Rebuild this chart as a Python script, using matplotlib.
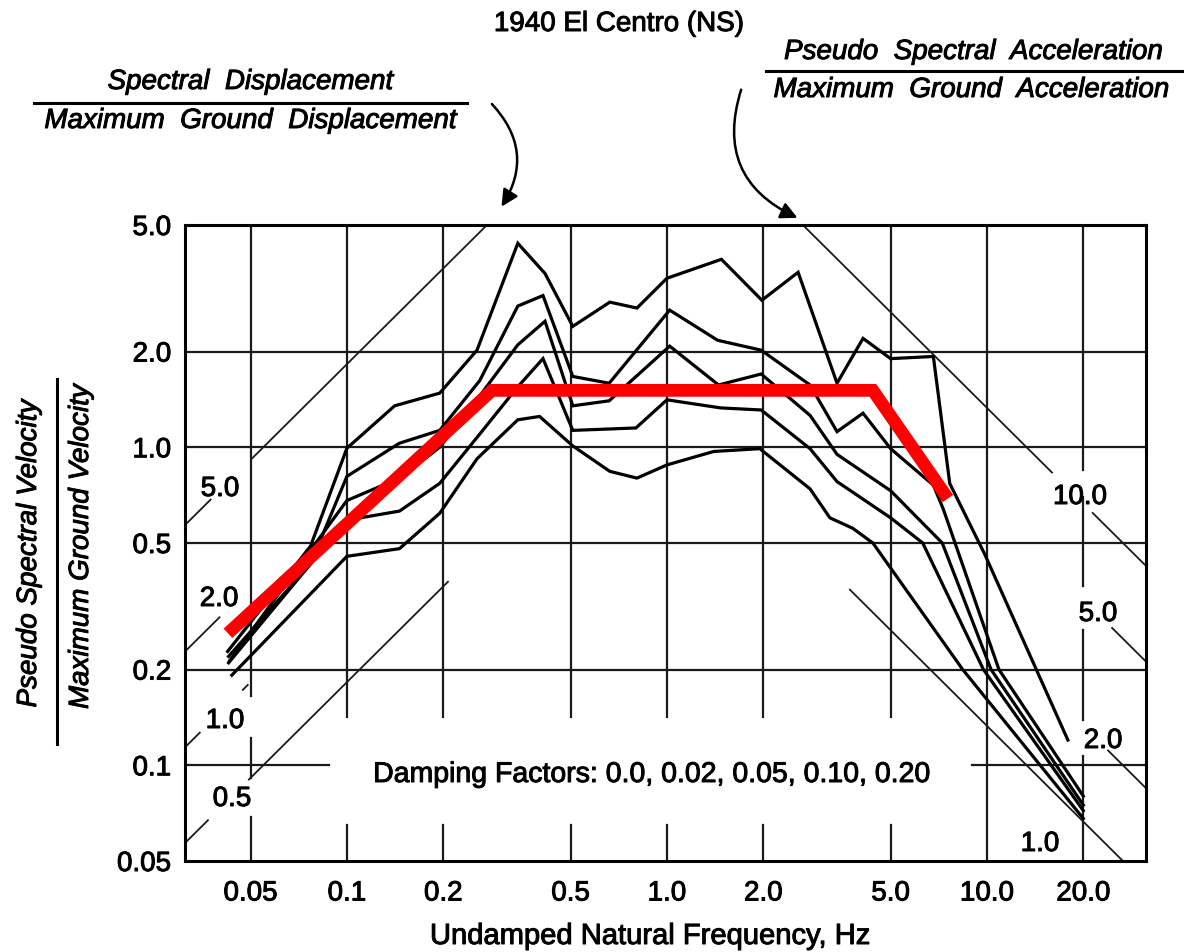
import numpy as np
import matplotlib
matplotlib.use("Agg")
import matplotlib.pyplot as plt
import matplotlib.patheffects as pe
from matplotlib.lines import Line2D
from matplotlib.patches import FancyArrowPatch

plt.rcParams['font.family'] = ['Liberation Sans', 'DejaVu Sans']
TXT_FX = [pe.withStroke(linewidth=0.7, foreground="black")]

# ---------------- data ----------------
x_ticks = [0.05, 0.1, 0.2, 0.5, 1.0, 2.0, 5.0, 10.0, 20.0]
x_tick_labels = ["0.05", "0.1", "0.2", "0.5", "1.0", "2.0", "5.0", "10.0", "20.0"]
y_ticks = [0.05, 0.1, 0.2, 0.5, 1.0, 2.0, 5.0]
y_tick_labels = ["0.05", "0.1", "0.2", "0.5", "1.0", "2.0", "5.0"]

damping_factors = [0.0, 0.02, 0.05, 0.10, 0.20]

f_d000 = [0.0424, 0.077, 0.1, 0.141, 0.195, 0.255, 0.342, 0.416, 0.508, 0.663, 0.806,
          1.0, 1.48, 1.98, 2.57, 3.4, 4.1, 5.0, 6.8, 7.65, 9.85, 17.9]
v_d000 = [0.228, 0.489, 0.993, 1.35, 1.48, 2.02, 4.38, 3.52, 2.40, 2.86, 2.74,
          3.40, 3.90, 2.90, 3.55, 1.59, 2.20, 1.90, 1.93, 0.77, 0.46, 0.12]

f_d002 = [0.0427, 0.077, 0.1, 0.146, 0.195, 0.26, 0.342, 0.41, 0.508, 0.66, 1.02,
          1.44, 1.97, 2.8, 3.4, 4.1, 5.0, 6.8, 7.3, 10.9, 20.0]
v_d002 = [0.22, 0.43, 0.81, 1.03, 1.13, 1.62, 2.78, 3.0, 1.67, 1.59, 2.7,
          2.17, 2.02, 1.57, 1.12, 1.28, 0.99, 0.76, 0.64, 0.2, 0.08]

f_d005 = [0.0430, 0.1, 0.146, 0.195, 0.26, 0.342, 0.416, 0.508, 0.66, 1.02, 1.45,
          1.97, 2.8, 3.4, 5.0, 7.25, 10.3, 20.0]
v_d005 = [0.213, 0.68, 0.80, 1.0, 1.45, 2.1, 2.49, 1.35, 1.40, 2.08, 1.57,
          1.70, 1.26, 0.95, 0.73, 0.5, 0.2, 0.075]

f_d010 = [0.0427, 0.1, 0.146, 0.195, 0.26, 0.342, 0.41, 0.508, 0.8, 1.0, 1.47,
          1.97, 2.8, 3.4, 5.0, 6.3, 9.75, 20.0]
v_d010 = [0.21, 0.59, 0.63, 0.77, 1.1, 1.55, 1.90, 1.13, 1.15, 1.41, 1.33,
          1.31, 0.99, 0.78, 0.60, 0.5, 0.2, 0.072]

f_d020 = [0.0437, 0.1, 0.146, 0.195, 0.255, 0.342, 0.40, 0.508, 0.663, 0.806, 1.0,
          1.4, 1.95, 2.8, 3.23, 3.81, 4.4, 8.4, 20.0]
v_d020 = [0.192, 0.454, 0.48, 0.62, 0.92, 1.22, 1.25, 1.01, 0.84, 0.80, 0.88,
          0.97, 0.99, 0.74, 0.60, 0.556, 0.5, 0.2, 0.068]

# idealized design spectrum (red)
f_design = [0.0425, 0.284, 4.4, 7.55]
v_design = [0.26, 1.51, 1.51, 0.69]

# tripartite guide lines
disp_values = [5.0, 2.0, 1.0, 0.5]
disp_labels = ["5.0", "2.0", "1.0", "0.5"]
acc_values = [10.0, 5.0, 2.0, 1.0]
acc_labels = ["10.0", "5.0", "2.0", "1.0"]
KD = 3.65   # v = KD * D * f
KA = 1.33   # v = KA * A / f

# ---------------- figure ----------------
W, H = 1184, 953
fig = plt.figure(figsize=(W / 100, H / 100), dpi=100)
fig.patch.set_facecolor("white")

def fx(px):
    return px / W

def fy(py):
    return 1 - py / H

def ftext(px, py, s, **kw):
    kw.setdefault("fontsize", 20)
    kw.setdefault("ha", "center")
    kw.setdefault("va", "center")
    return fig.text(fx(px), fy(py), s, path_effects=TXT_FX, **kw)

L, R, T, B = 185, 1146, 226, 862
ax = fig.add_axes([fx(L), fy(B), (R - L) / W, (B - T) / H])
ax.set_xscale("log")
ax.set_yscale("log")
XMIN, XMAX = 0.0312, 31.4
YMIN, YMAX = 0.05, 5.0
ax.set_xlim(XMIN, XMAX)
ax.set_ylim(YMIN, YMAX)

for s in ax.spines.values():
    s.set_linewidth(2.2)
    s.set_color("black")

ax.xaxis.set_minor_locator(matplotlib.ticker.NullLocator())
ax.yaxis.set_minor_locator(matplotlib.ticker.NullLocator())
ax.set_xticks(x_ticks)
ax.set_xticklabels(x_tick_labels, fontsize=20)
ax.set_yticks(y_ticks)
ax.set_yticklabels(y_tick_labels, fontsize=20)
for t in ax.get_xticklabels() + ax.get_yticklabels():
    t.set_path_effects(TXT_FX)
ax.tick_params(axis="both", length=0)
ax.tick_params(axis="x", pad=14)
ax.tick_params(axis="y", pad=10)

grid_kw = dict(color="#1a1a1a", lw=1.6, zorder=1)

# vertical grid lines (with gaps for labels)
for xv in [0.1, 0.2, 0.5, 1.0, 2.0, 5.0]:
    ax.plot([xv, xv], [0.142, YMAX], **grid_kw)
    ax.plot([xv, xv], [YMIN, 0.065], **grid_kw)
ax.plot([0.05, 0.05], [0.165, YMAX], **grid_kw)
ax.plot([0.05, 0.05], [0.0909, 0.122], **grid_kw)
ax.plot([0.05, 0.05], [YMIN, 0.0689], **grid_kw)
ax.plot([10.0, 10.0], [YMIN, YMAX], **grid_kw)
for lo, hi in [(0.846, YMAX), (0.366, 0.70), (0.139, 0.266), (YMIN, 0.107)]:
    ax.plot([20.0, 20.0], [lo, hi], **grid_kw)

# horizontal grid lines
for yv in [0.2, 0.5, 1.0, 2.0]:
    ax.plot([XMIN, XMAX], [yv, yv], **grid_kw)
ax.plot([XMIN, 0.088], [0.1, 0.1], **grid_kw)
ax.plot([9.0, XMAX], [0.1, 0.1], **grid_kw)

# tripartite diagonal lines
diag_kw = dict(color="#1a1a1a", lw=1.3, zorder=1.5)
disp_segments = {
    5.0: [(0.0312, 0.0375), (0.0503, 0.274)],
    2.0: [(0.0312, 0.040)],
    1.0: [(0.0312, 0.0347), (0.0473, 0.049)],
    0.5: [(0.0312, 0.0368), (0.0494, 0.207)],
}
for D in disp_values:
    for f0, f1 in disp_segments[D]:
        ff = np.array([f0, f1])
        ax.plot(ff, KD * D * ff, **diag_kw)

acc_segments = {
    10.0: [(2.66, 15.97), (21.4, 31.4)],
    5.0: [(24.6, 31.4)],
    2.0: [(23.9, 31.4)],
    1.0: [(3.73, 26.6)],
}
for A in acc_values:
    for f0, f1 in acc_segments[A]:
        ff = np.array([f0, f1])
        ax.plot(ff, KA * A / ff, **diag_kw)

# labels of the diagonal lines (pixel positions)
disp_label_pos = [(220, 490), (219, 600), (225, 722), (232, 800)]
for lab, (px, py) in zip(disp_labels, disp_label_pos):
    ftext(px, py, lab)
acc_label_pos = [(1080, 498), (1098, 615), (1103, 742), (1040, 845)]
for lab, (px, py) in zip(acc_labels, acc_label_pos):
    ftext(px, py, lab)

# response spectra curves
curves = [(f_d000, v_d000), (f_d002, v_d002), (f_d005, v_d005),
          (f_d010, v_d010), (f_d020, v_d020)]
for ff, vv in curves:
    ax.plot(ff, vv, color="black", lw=2.3, zorder=3,
            solid_joinstyle="miter")

# design spectrum
ax.plot(f_design, v_design, color="#ff0000", lw=9.2, zorder=5,
        solid_joinstyle="miter", solid_capstyle="butt")

# damping text
ftext(652, 776, "Damping Factors: " + ", ".join(
    ["0.0", "0.02", "0.05", "0.10", "0.20"]), fontsize=20.5)

# axis labels
ftext(650, 937, "Undamped Natural Frequency, Hz", fontsize=21)
ftext(29, 555, "Pseudo Spectral Velocity", style="italic", rotation=90)
ftext(81, 548, "Maximum Ground Velocity", style="italic", rotation=90)
fig.add_artist(Line2D([fx(57), fx(57)], [fy(380), fy(745)], color="black", lw=2.2))

# title
ftext(619, 25, "1940 El Centro (NS)")

# top-left fraction
ftext(250, 83, "Spectral  Displacement", style="italic")
fig.add_artist(Line2D([fx(34), fx(467)], [fy(104), fy(104)], color="black", lw=2.2))
ftext(250, 122, "Maximum  Ground  Displacement", style="italic")

# top-right fraction
ftext(973, 53, "Pseudo  Spectral  Acceleration", style="italic")
fig.add_artist(Line2D([fx(766), fx(1182)], [fy(72), fy(72)], color="black", lw=2.2))
ftext(971, 91, "Maximum  Ground  Acceleration", style="italic")

# curved arrows
arr1 = FancyArrowPatch((fx(490), fy(103)), (fx(500), fy(210)),
                       transform=fig.transFigure, connectionstyle="arc3,rad=-0.4",
                       arrowstyle="-|>,head_length=10,head_width=5",
                       color="black", lw=1.8)
fig.add_artist(arr1)
arr2 = FancyArrowPatch((fx(742), fy(88)), (fx(800), fy(220)),
                       transform=fig.transFigure, connectionstyle="arc3,rad=0.45",
                       arrowstyle="-|>,head_length=10,head_width=5",
                       color="black", lw=1.8)
fig.add_artist(arr2)

fig.savefig("out.png", dpi=100, facecolor="white")
